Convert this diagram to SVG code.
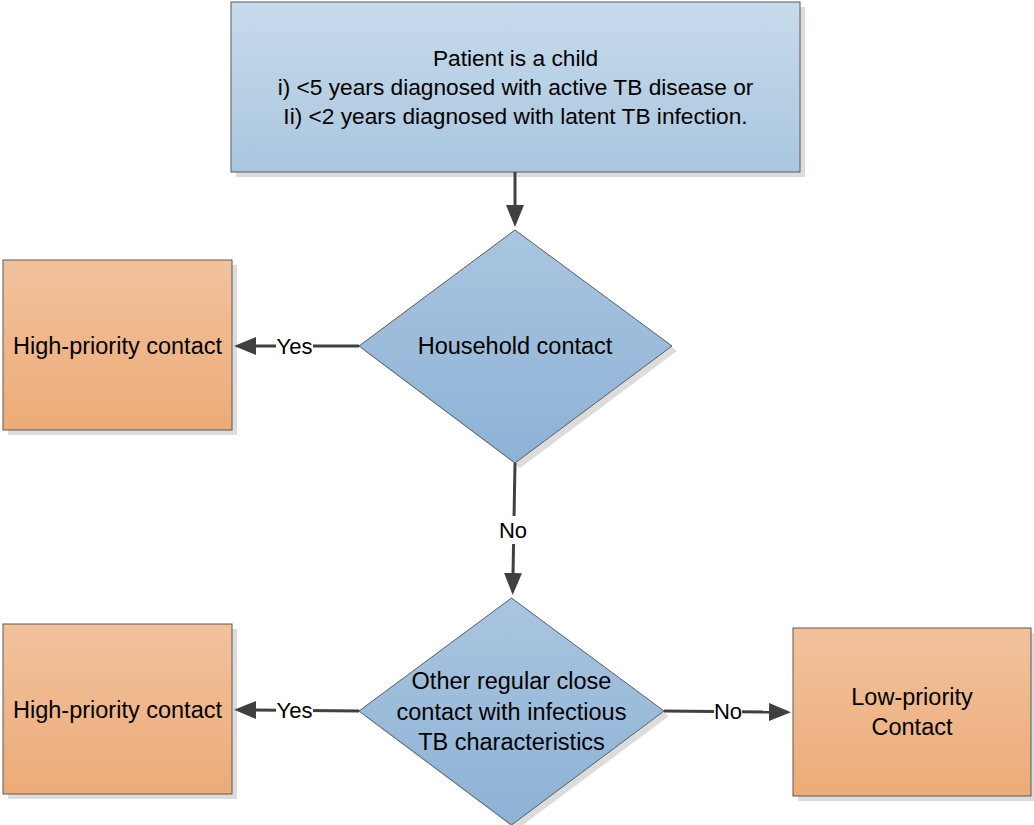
<svg xmlns="http://www.w3.org/2000/svg" width="1034" height="825" viewBox="0 0 1034 825">
  <style>
    .t { font-family: "Liberation Sans", Arial, sans-serif; font-size: 23.5px; fill: #000; text-anchor: middle; }
    .tt { font-family: "Liberation Sans", Arial, sans-serif; font-size: 22.7px; fill: #000; text-anchor: middle; }
    .lbl { font-family: "Liberation Sans", Arial, sans-serif; font-size: 22px; fill: #000; text-anchor: middle; }
    .shadow { fill: #dcdcdc; }
    .edge { stroke: #5b5b5b; stroke-width: 1; }
    .conn { stroke: #404040; stroke-width: 3; fill: none; }
    .bg { fill: #ffffff; }
  </style>
  <defs>
    <linearGradient id="gBox" x1="0" y1="0" x2="0" y2="1">
      <stop offset="0" stop-color="#c7dbeb"/>
      <stop offset="1" stop-color="#a9c6df"/>
    </linearGradient>
    <linearGradient id="gDia" x1="0" y1="0" x2="0" y2="1">
      <stop offset="0" stop-color="#a9c5df"/>
      <stop offset="1" stop-color="#8db2d6"/>
    </linearGradient>
    <linearGradient id="gOr" x1="0" y1="0" x2="0" y2="1">
      <stop offset="0" stop-color="#f2c29d"/>
      <stop offset="1" stop-color="#ecab77"/>
    </linearGradient>
    <marker id="arr" markerUnits="userSpaceOnUse" viewBox="0 0 22 18" refX="2" refY="9" markerWidth="22" markerHeight="18" orient="auto">
      <path d="M0,0 L22,9 L0,18 z" fill="#404040"/>
    </marker>
  </defs>

  <g id="start">
    <rect class="shadow" x="236" y="7" width="569" height="170"/>
    <rect class="edge" x="231" y="2" width="569" height="170" fill="url(#gBox)"/>
    <text class="tt" x="515.5" y="66">Patient is a child</text>
    <text class="tt" x="515.5" y="95">i) &lt;5 years diagnosed with active TB disease or</text>
    <text class="tt" x="515.5" y="124">Ii) &lt;2 years diagnosed with latent TB infection.</text>
  </g>

  <g id="household">
    <polygon class="shadow" points="520,235 677,351 520,468 364,351"/>
    <polygon class="edge" points="515,230 672,346 515,463 359,346" fill="url(#gDia)"/>
    <text class="t" x="515" y="354">Household contact</text>
  </g>

  <g id="high1">
    <rect class="shadow" x="8" y="265" width="229" height="170"/>
    <rect class="edge" x="3" y="260" width="229" height="170" fill="url(#gOr)"/>
    <text class="t" x="117.5" y="354">High-priority contact</text>
  </g>

  <g id="other">
    <polygon class="shadow" points="516,603 669,716 516,830 364,716"/>
    <polygon class="edge" points="511.5,598 664,711 511.5,825 359,711" fill="url(#gDia)"/>
    <text class="t" x="511.5" y="689">Other regular close</text>
    <text class="t" x="511.5" y="720">contact with infectious</text>
    <text class="t" x="511.5" y="750">TB characteristics</text>
  </g>

  <g id="high2">
    <rect class="shadow" x="8" y="629" width="229" height="170"/>
    <rect class="edge" x="3" y="624" width="229" height="170" fill="url(#gOr)"/>
    <text class="t" x="117.5" y="718">High-priority contact</text>
  </g>

  <g id="low">
    <rect class="shadow" x="798" y="633" width="238" height="168"/>
    <rect class="edge" x="793" y="628" width="238" height="168" fill="url(#gOr)"/>
    <text class="t" x="912" y="705">Low-priority</text>
    <text class="t" x="912" y="735">Contact</text>
  </g>

  <g id="connectors">
    <line class="conn" x1="515" y1="172" x2="515" y2="207" marker-end="url(#arr)"/>

    <line class="conn" x1="359" y1="346" x2="254" y2="346" marker-end="url(#arr)"/>
    <rect class="bg" x="276" y="333" width="37" height="26"/>
    <text class="lbl" x="294.5" y="354">Yes</text>

    <line class="conn" x1="515" y1="463" x2="513" y2="575" marker-end="url(#arr)"/>
    <rect class="bg" x="499" y="516" width="28" height="28"/>
    <text class="lbl" x="513" y="538">No</text>

    <line class="conn" x1="359" y1="711" x2="254" y2="710" marker-end="url(#arr)"/>
    <rect class="bg" x="276" y="698" width="37" height="26"/>
    <text class="lbl" x="294.5" y="718">Yes</text>

    <line class="conn" x1="664" y1="711" x2="771" y2="712" marker-end="url(#arr)"/>
    <rect class="bg" x="714" y="699" width="28" height="26"/>
    <text class="lbl" x="728" y="719">No</text>
  </g>
</svg>
